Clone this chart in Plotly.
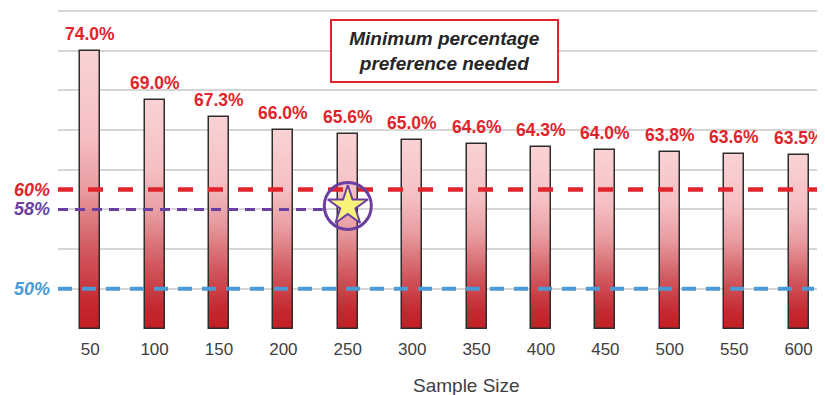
import plotly.graph_objects as go

# ---------------- data ----------------
sample_sizes = [50, 100, 150, 200, 250, 300, 350, 400, 450, 500, 550, 600]
min_pref = [74.0, 69.0, 67.3, 66.0, 65.6, 65.0, 64.6, 64.3, 64.0, 63.8, 63.6, 63.5]

threshold_levels = [60, 58, 50]
threshold_labels = ["60%", "58%", "50%"]
threshold_colors = ["#e1242b", "#6b3fa0", "#4a9ad6"]

star_x = [250]
star_y = [58.35]

axis_title = "Sample Size"
note_text = "Minimum percentage<br>preference needed"

# ---------------- styling ----------------
FONT = "Liberation Sans, Arial, sans-serif"
RED = "#e1242b"
Y_MIN, Y_MAX = 45.95, 78.3
BASE = 46
X_RANGE = [25, 620.5]
BAR_W = 15.5

# gradient stops (fraction of bar height from bottom -> colour)
grad = [(0.0, (194, 29, 37)), (0.1, (197, 42, 49)), (0.3, (210, 94, 100)),
        (0.5, (232, 155, 160)), (0.7, (245, 192, 195)), (1.0, (250, 210, 212))]


def grad_color(f):
    for (f0, c0), (f1, c1) in zip(grad[:-1], grad[1:]):
        if f <= f1:
            t = (f - f0) / (f1 - f0) if f1 > f0 else 0
            c = [round(a + (b - a) * t) for a, b in zip(c0, c1)]
            return "rgb(%d,%d,%d)" % tuple(c)
    return "rgb(%d,%d,%d)" % grad[-1][1]


fig = go.Figure()

N = 70
for k in range(N):
    frac = 1 - k / N
    fig.add_trace(go.Bar(
        x=sample_sizes,
        y=[(v - BASE) * frac for v in min_pref],
        base=BASE,
        width=BAR_W,
        marker=dict(color=grad_color(frac - 0.5 / N), line=dict(width=0)),
        hoverinfo="skip",
        showlegend=False,
    ))

# outline of bars
fig.add_trace(go.Bar(
    x=sample_sizes,
    y=[v - BASE for v in min_pref],
    base=BASE,
    width=BAR_W,
    marker=dict(color="rgba(0,0,0,0)", line=dict(color="#2d2d2d", width=1.5)),
    showlegend=False,
))

# threshold dashed lines
line_ends = [X_RANGE[1], 230.5, 612]
line_widths = [4.5, 3, 4]
line_dashes = ["15px,15px", "10px,7px", "14px,10px"]
for lvl, col, xe, w, d in zip(threshold_levels, threshold_colors, line_ends, line_widths, line_dashes):
    fig.add_trace(go.Scatter(
        x=[X_RANGE[0], xe], y=[lvl, lvl], mode="lines",
        line=dict(color=col, width=w, dash=d),
        hoverinfo="skip", showlegend=False, cliponaxis=False,
    ))

# star inside circle
fig.add_trace(go.Scatter(
    x=star_x, y=star_y, mode="markers",
    marker=dict(symbol="circle-open", size=47, color="#6b3fa0", line=dict(width=3, color="#6b3fa0")),
    showlegend=False, hoverinfo="skip",
))
fig.add_trace(go.Scatter(
    x=star_x, y=star_y, mode="markers",
    marker=dict(symbol="star", size=30, color="#f6f27a", line=dict(width=2, color="#6b3fa0")),
    showlegend=False, hoverinfo="skip",
))

annotations = []
for s, v in zip(sample_sizes, min_pref):
    annotations.append(dict(
        x=s, y=v, xref="x", yref="y", text="%.1f%%" % v, showarrow=False,
        yanchor="bottom", yshift=5,
        font=dict(family=FONT, size=17.5, color=RED, weight="bold"),
    ))
for lvl, lab, col in zip(threshold_levels, threshold_labels, threshold_colors):
    annotations.append(dict(
        x=-0.008, y=lvl, xref="paper", yref="y", text=lab, showarrow=False,
        xanchor="right", yanchor="middle",
        font=dict(family=FONT, size=18, color=col, weight="bold", style="italic"),
    ))
annotations.append(dict(
    x=0.504, y=0.866, xref="paper", yref="paper", text=note_text, showarrow=False,
    xanchor="center", yanchor="middle", align="center",
    width=221, height=56, borderpad=2, borderwidth=2, bordercolor=RED, bgcolor="white",
    font=dict(family=FONT, size=19, color="#262626", weight="bold", style="italic"),
))
annotations.append(dict(
    x=0.533, y=-0.1745, xref="paper", yref="paper", text=axis_title, showarrow=False,
    xanchor="center", yanchor="middle",
    font=dict(family=FONT, size=19, color="#404040"),
))

fig.update_layout(
    width=817, height=387,
    margin=dict(l=50, r=0, t=0, b=66),
    paper_bgcolor="white", plot_bgcolor="white",
    barmode="overlay", bargap=0,
    showlegend=False,
    annotations=annotations,
    xaxis=dict(
        range=X_RANGE, tickmode="array", tickvals=sample_sizes,
        ticktext=[str(s) for s in sample_sizes],
        showgrid=False, zeroline=False, showline=False, ticks="",
        tickfont=dict(family=FONT, size=17, color="#404040"),
        ticklabelstandoff=8,
    ),
    yaxis=dict(
        range=[Y_MIN, Y_MAX], tick0=BASE, dtick=4, showticklabels=False,
        showgrid=True, gridcolor="#d6d6d6", gridwidth=2, zeroline=False,
        showline=False, ticks="",
    ),
)

fig.write_html("out.html")
